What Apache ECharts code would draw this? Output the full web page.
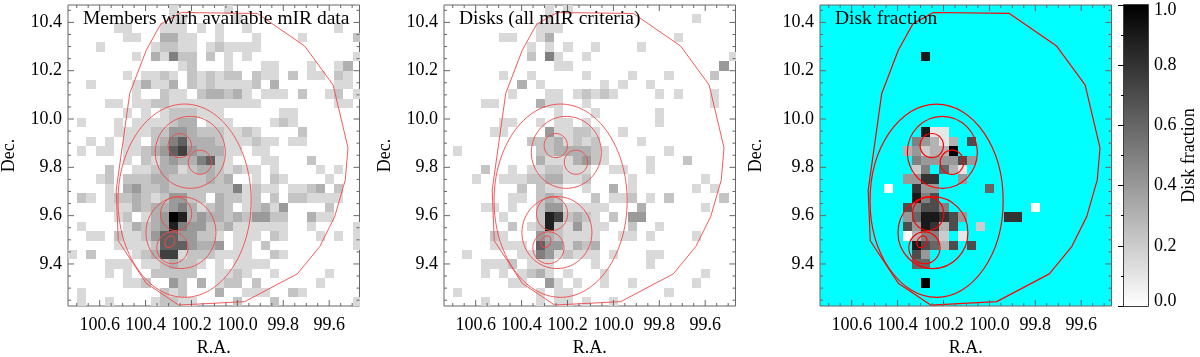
<!DOCTYPE html>
<html lang="en">
  <head>
    <meta charset="UTF-8" />
    <title>Disk fraction maps</title>
    <script src="https://cdn.jsdelivr.net/npm/echarts@6/dist/echarts.min.js"></script>
    <style>
      html, body { margin: 0; padding: 0; background: #fff; }
      #chart { width: 1200px; height: 357px; }
    </style>
  </head>
  <body>
    <div id="chart"></div>
    <script type="text/javascript">
      // binned counts, one string per row from the top, columns in blocks of 8
      const memberRows = [
        "00000000 00010000 01000000 00000000",
        "00000000 00011000 00100000 00000000",
        "00000110 00111010 10010000 00000100",
        "00000011 00331100 10001000 01000002",
        "00010000 01221101 21111000 00000000",
        "00000001 03152202 01010000 00000001",
        "00000000 00001200 01000110 00100130",
        "00000010 11210212 12202110 20110210",
        "00100001 31130212 11112030 00000110",
        "00000001 00211023 32310111 02001201",
        "00001101 12211111 11111000 00000110",
        "00000010 10122211 10000001 10000000",
        "01000101 11123301 11000012 10000000",
        "00000111 12244322 21121000 02000000",
        "00101011 02356333 21112110 11000000",
        "01011011 23467433 31101100 00000000",
        "00000010 21343356 21000110 00200000",
        "00002001 12331233 21211010 00010100",
        "00012022 23322223 23001021 00001000",
        "00001034 22322222 22512110 11230200",
        "02101223 21244220 32212020 22111100",
        "00001113 23345312 32012314 00002000",
        "00000120 13498343 32324422 00311000",
        "01000013 23485442 23111111 00100001",
        "00110211 24664422 10111021 00010101",
        "00000111 12666433 40110200 00000001",
        "10200001 23771222 11110021 00000000",
        "00001110 11232210 10111100 00000000",
        "00001010 02222200 11210010 00001000",
        "00000011 20042030 12202000 00010000",
        "01000000 00212000 30011100 21000000",
        "01001000 01221100 00200020 00000001",
      ];
      const diskRows = [
        "00000000 00010100 00000000 00000000",
        "00000000 00010000 00000000 00010000",
        "00000000 00111000 00000000 00000000",
        "00000011 00130000 00000000 01000000",
        "00000000 01010100 10000100 00000000",
        "00000000 02051001 00000000 00000001",
        "00000000 00001100 00000000 00000040",
        "00000010 01000001 00001000 10000200",
        "00000000 30100000 01010010 00000000",
        "00000001 00011012 12100001 01000100",
        "00001100 00311001 00000000 00000100",
        "00000000 00001000 10000001 00000000",
        "00000011 00101101 00000001 00000000",
        "00000110 00041122 10010000 00000000",
        "00000000 02223121 20000100 00000000",
        "01000000 00223333 21000000 10000000",
        "00000000 00311134 21000010 00200000",
        "00002001 01122111 00110010 00000000",
        "00010011 12233112 00001000 00001000",
        "00000000 20211001 00301000 00010100",
        "00000001 10232000 20112010 20000020",
        "00001101 00244111 11000300 00001000",
        "00000010 00287232 10204400 00000000",
        "00000002 01282141 11002001 00000000",
        "00000210 00432111 10011010 00010000",
        "00000111 10644132 30000000 00000000",
        "00100000 11541211 10100011 00000000",
        "00001112 01110000 10000010 00000000",
        "00001010 12310100 01000000 00001000",
        "00000001 10041010 01001000 00010000",
        "01000000 00101100 00000000 10000000",
        "00001000 00101101 00100000 00000000",
      ];
      // disk fraction in tenths, x = 1.0, . = no data
      const fractionRows = [
        "........ ........ ........ ........",
        "........ ........ ........ ........",
        "........ ........ ........ ........",
        "........ ........ ........ ........",
        "........ ........ ........ ........",
        "........ ...9.... ........ ........",
        "........ ........ ........ ........",
        "........ ........ ........ ........",
        "........ ........ ........ ........",
        "........ ........ ........ ........",
        "........ ........ ........ ........",
        "........ ........ ........ ........",
        "........ ........ ........ ........",
        "........ ...911.. ........ ........",
        "........ ..54313. 7....... ........",
        "........ .34233x. ........ ........",
        "........ ..544447 4....... ........",
        "........ ..25.631 ........ ........",
        "........ .4488..4 ........ ........",
        ".......0 ..844... ..6..... ........",
        "........ ..957... ........ ........",
        "........ .75775.. .......0 ........",
        "........ .4699874 ....88.. ........",
        "........ .749837. .2...... ........",
        "........ .03552.1 ........ ........",
        "........ ..97637. 7....... ........",
        "........ ..74.... ........ ........",
        "........ ..66.... ........ ........",
        "........ ........ ........ ........",
        "........ ...x.... ........ ........",
        "........ ........ ........ ........",
        "........ ........ ........ ........",
      ];

      // footprint outline, [R.A., Dec.]
      const outline = [
        [100.244, 10.441], [99.913, 10.437], [99.707, 10.302], [99.583, 10.141],
        [99.518, 9.881], [99.53, 9.748], [99.576, 9.596], [99.641, 9.472],
        [99.739, 9.359], [99.968, 9.244], [100.256, 9.23], [100.397, 9.32],
        [100.519, 9.496], [100.528, 9.706], [100.469, 10.106], [100.397, 10.285],
        [100.334, 10.393], [100.244, 10.441],
      ];
      // subcluster regions: R.A., Dec., radius in R.A., radius in Dec., tilt
      const regions = [
        [100.23, 9.662, 0.29, 0.4, 0],
        [100.205, 9.862, 0.1525, 0.149, 0],
        [100.246, 9.53, 0.1525, 0.149, 0],
        [100.251, 9.89, 0.051, 0.05, 0],
        [100.163, 9.821, 0.051, 0.05, 0],
        [100.267, 9.608, 0.068, 0.07, 0],
        [100.283, 9.467, 0.068, 0.066, 0],
        [100.294, 9.492, 0.02, 0.026, -0.5],
      ];

      const raLabels = [100.6, 100.4, 100.2, 100.0, 99.8, 99.6];
      const decLabels = [10.4, 10.2, 10.0, 9.8, 9.6, 9.4];
      const raMinor = [100.7, 100.65, 100.55, 100.5, 100.45, 100.35, 100.3, 100.25, 100.15, 100.1, 100.05, 99.95, 99.9, 99.85, 99.75, 99.7, 99.65, 99.55, 99.5];
      const decMinor = [10.45, 10.35, 10.3, 10.25, 10.15, 10.1, 10.05, 9.95, 9.9, 9.85, 9.75, 9.7, 9.65, 9.55, 9.5, 9.45, 9.35, 9.3, 9.25];

      const panelTitles = ["Members wirh available mIR data", "Disks (all mIR criteria)", "Disk fraction"];
      const panelLeft = [68, 444, 820];
      const titleLeft = [83, 459, 835];
      const decNameGap = [50, 50, 55];

      const raMin = 99.468, raMax = 100.738, decMin = 9.226, decMax = 10.472;
      const cellRa = 0.04, cellDec = 0.0391, firstDec = 10.4743;
      const countGrey = [255, 217, 196, 176, 154, 128, 96, 64, 32, 0];
      const font = "Liberation Serif";

      function parseCells(rows, read) {
        const cells = [];
        rows.forEach((row, r) => {
          row.replace(/ /g, "").split("").forEach((ch, c) => {
            const grey = read(ch);
            if (grey !== null) cells.push([c, r, grey]);
          });
        });
        return cells;
      }
      const readCount = (ch) => (ch === "0" ? null : countGrey[+ch]);
      const readFraction = (ch) => {
        if (ch === ".") return null;
        return ch === "x" ? 0 : Math.round(255 * (1 - +ch / 10));
      };

      function renderCell(params, api) {
        const c = api.value(0), r = api.value(1), g = api.value(2);
        const a = api.coord([raMax - c * cellRa, firstDec - r * cellDec]);
        const b = api.coord([raMax - (c + 1) * cellRa, firstDec - (r + 1) * cellDec]);
        const x = Math.round(a[0]), y = Math.round(a[1]);
        return {
          type: "rect",
          shape: { x: x, y: y, width: Math.round(b[0]) - x, height: Math.round(b[1]) - y },
          style: { fill: "rgb(" + g + "," + g + "," + g + ")" },
        };
      }

      function renderRegion(width, color) {
        return function (params, api) {
          const p = api.coord([api.value(0), api.value(1)]);
          const size = api.size([api.value(2), api.value(3)]);
          return {
            type: "ellipse",
            shape: { cx: p[0], cy: p[1], rx: size[0], ry: size[1] },
            rotation: api.value(4),
            originX: p[0],
            originY: p[1],
            style: { fill: "none", stroke: color, lineWidth: width },
          };
        };
      }

      // ticks point inwards on all four sides
      function renderTick(params, api) {
        const isRa = api.value(0) === 0;
        const v = api.value(1), len = api.value(2);
        const a = isRa ? api.coord([v, decMin]) : api.coord([raMax, v]);
        const b = isRa ? api.coord([v, decMax]) : api.coord([raMin, v]);
        const dx = isRa ? 0 : len, dy = isRa ? len : 0;
        const line = (x1, y1, x2, y2) => ({
          type: "line",
          shape: { x1, y1, x2, y2 },
          style: { stroke: "#666", lineWidth: 1 },
        });
        return {
          type: "group",
          children: [
            line(a[0], a[1], a[0] + dx, a[1] - dy),
            line(b[0], b[1], b[0] - dx, b[1] + dy),
          ],
        };
      }

      const tickData = [];
      raLabels.forEach((v) => tickData.push([0, v, 6]));
      raMinor.forEach((v) => tickData.push([0, v, 3]));
      decLabels.forEach((v) => tickData.push([1, v, 6]));
      decMinor.forEach((v) => tickData.push([1, v, 3]));

      const panelCells = [
        parseCells(memberRows, readCount),
        parseCells(diskRows, readCount),
        parseCells(fractionRows, readFraction),
      ];

      const grids = [], xAxes = [], yAxes = [], series = [], titles = [];
      panelLeft.forEach((left, i) => {
        const heavy = i === 2;
        const stroke = heavy ? "#ff0000" : "#f04848";
        const width = heavy ? 1.2 : 0.9;
        grids.push({
          left: left, top: 5, width: 291.5, height: 301,
          outerBoundsMode: "none",
          show: true,
          borderColor: "#666",
          borderWidth: 1,
          backgroundColor: heavy ? "#00ffff" : "#fff",
        });
        xAxes.push({
          gridIndex: i, type: "value", inverse: true, min: raMin, max: raMax,
          name: "R.A.", nameLocation: "middle", nameGap: 32,
          nameTextStyle: { fontFamily: font, fontSize: 18, color: "#000" },
          axisLine: { show: false }, axisTick: { show: false }, splitLine: { show: false },
          axisLabel: {
            customValues: raLabels, margin: 10, fontFamily: font, fontSize: 18, color: "#000",
            formatter: (v) => v.toFixed(1),
          },
        });
        yAxes.push({
          gridIndex: i, type: "value", min: decMin, max: decMax,
          name: "Dec.", nameLocation: "middle", nameGap: decNameGap[i], nameRotate: 90,
          nameTextStyle: { fontFamily: font, fontSize: 18, color: "#000" },
          axisLine: { show: false }, axisTick: { show: false }, splitLine: { show: false },
          axisLabel: {
            customValues: decLabels, margin: 6, fontFamily: font, fontSize: 18, color: "#000",
            formatter: (v) => v.toFixed(1),
          },
        });
        series.push({
          type: "custom", xAxisIndex: i, yAxisIndex: i, clip: true, silent: true, z: 1,
          data: panelCells[i], renderItem: renderCell,
        });
        series.push({
          type: "line", xAxisIndex: i, yAxisIndex: i, clip: true, silent: true, z: 3,
          symbol: "none", data: outline, lineStyle: { color: stroke, width: width },
        });
        series.push({
          type: "custom", xAxisIndex: i, yAxisIndex: i, clip: true, silent: true, z: 3,
          data: regions, renderItem: renderRegion(width, stroke),
        });
        series.push({
          type: "custom", xAxisIndex: i, yAxisIndex: i, clip: false, silent: true, z: 4,
          data: tickData, renderItem: renderTick,
        });
        titles.push({
          text: panelTitles[i], left: titleLeft[i], top: 9, padding: 0, z: 10,
          textStyle: { fontFamily: font, fontSize: 19.5, fontWeight: "normal", color: "#000" },
        });
      });

      // colour bar
      grids.push({
        left: 1124, top: 5, width: 24, height: 301,
        outerBoundsMode: "none",
        show: true, borderColor: "#000", borderWidth: 1.5, backgroundColor: "#fff",
      });
      xAxes.push({
        gridIndex: 3, type: "value", min: 0, max: 1, show: false,
      });
      yAxes.push({
        gridIndex: 3, type: "value", position: "right", min: 0, max: 1, interval: 0.2,
        name: "Disk fraction", nameLocation: "middle", nameGap: 31, nameRotate: 90,
        nameTextStyle: { fontFamily: font, fontSize: 18, color: "#000" },
        axisLine: { show: false }, splitLine: { show: false },
        axisTick: { show: true, inside: true, length: 6, lineStyle: { color: "#000" } },
        minorTick: { show: true, splitNumber: 2, length: 3, lineStyle: { color: "#000" } },
        axisLabel: {
          margin: 6, fontFamily: font, fontSize: 18, color: "#000",
          lineHeight: 10, verticalAlignMaxLabel: "top", verticalAlignMinLabel: "bottom",
          formatter: (v) => v.toFixed(1),
        },
      });
      series.push({
        type: "custom", xAxisIndex: 3, yAxisIndex: 3, silent: true, z: 1,
        data: [[0, 0, 1, 1]],
        renderItem: function (params, api) {
          const a = api.coord([api.value(0), api.value(3)]);
          const b = api.coord([api.value(2), api.value(1)]);
          return {
            type: "rect",
            shape: { x: a[0], y: a[1], width: b[0] - a[0], height: b[1] - a[1] },
            style: {
              fill: new echarts.graphic.LinearGradient(0, 0, 0, 1, [
                { offset: 0, color: "#000" },
                { offset: 1, color: "#fff" },
              ]),
            },
          };
        },
      });

      const chart = echarts.init(document.getElementById("chart"), null, { renderer: "canvas" });
      chart.setOption({
        animation: false,
        backgroundColor: "#fff",
        title: titles,
        grid: grids,
        xAxis: xAxes,
        yAxis: yAxes,
        series: series,
      });
    </script>
  </body>
</html>
